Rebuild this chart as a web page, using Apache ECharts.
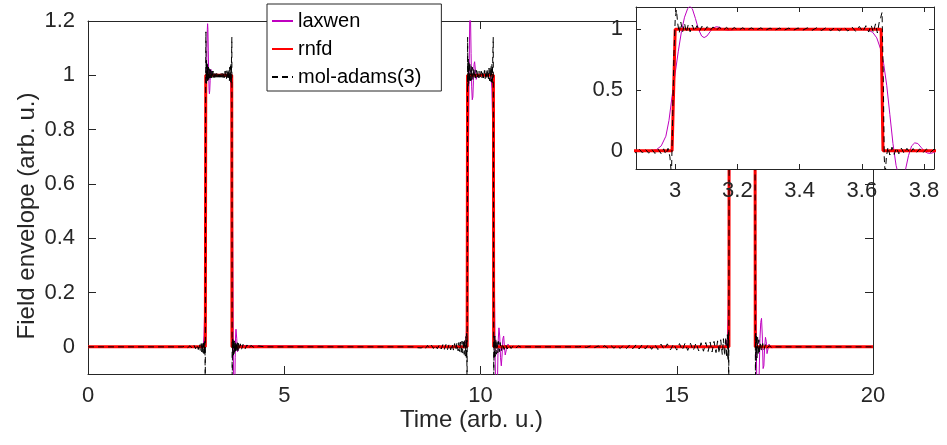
<!DOCTYPE html>
<html>
<head>
<meta charset="utf-8">
<script src="https://cdn.jsdelivr.net/npm/echarts@6/dist/echarts.min.js"></script>
<style>
html,body{margin:0;padding:0;background:#fff;}
#chart{width:947px;height:445px;}
</style>
</head>
<body>
<div id="chart"></div>
<script>
// ---------------- data ----------------
const seriesNames = ['laxwen', 'rnfd', 'mol-adams(3)'];
const mainXTicks = [0, 5, 10, 15, 20];
const mainYTicks = [0, 0.2, 0.4, 0.6, 0.8, 1, 1.2];
const insetXTicks = [3, 3.2, 3.4, 3.6, 3.8];
const insetYTicks = [0, 0.5, 1];

// rnfd: ideal rectangular pulses
const rnfd = [
  [0, 0], [2.99, 0], [3.0, 1], [3.662, 1], [3.668, 0],
  [9.66, 0], [9.67, 1], [10.33, 1], [10.335, 0],
  [16.33, 0], [16.335, 1], [16.995, 1], [17.0, 0], [20, 0]
];

// laxwen: smooth with overshoot / ringing
const laxwen = [
  [0, 0], [2.92, 0], [2.94, 0.01], [2.955, 0.04], [2.97, 0.12], [2.98, 0.25], [2.99, 0.45],
  [3.0, 0.64], [3.01, 0.82], [3.02, 0.98], [3.03, 1.1], [3.04, 1.17], [3.047, 1.19], [3.055, 1.17],
  [3.065, 1.09], [3.075, 1.0], [3.085, 0.945], [3.093, 0.932], [3.102, 0.945], [3.112, 0.98],
  [3.122, 1.01], [3.132, 1.022], [3.142, 1.017], [3.155, 1.0], [3.17, 0.993], [3.19, 0.998],
  [3.22, 1.002], [3.3, 1.0], [3.6, 1.0], [3.62, 0.995], [3.635, 0.975], [3.648, 0.93],
  [3.66, 0.84], [3.67, 0.72], [3.68, 0.54], [3.69, 0.3], [3.70, 0.06], [3.71, -0.12],
  [3.72, -0.22], [3.73, -0.23], [3.74, -0.16], [3.75, -0.04], [3.76, 0.04], [3.77, 0.065],
  [3.78, 0.06], [3.79, 0.03], [3.80, 0.0], [3.81, -0.018], [3.82, -0.022], [3.83, -0.015],
  [3.845, -0.004], [3.86, 0.004], [3.88, 0.005], [3.91, 0.0],
  [9.55, 0], [9.6, 0.003], [9.63, 0.02], [9.65, 0.08], [9.67, 0.3], [9.69, 0.65], [9.71, 1.0],
  [9.725, 1.2], [9.735, 1.26], [9.745, 1.22], [9.76, 1.08], [9.775, 0.96], [9.79, 0.91],
  [9.805, 0.92], [9.82, 0.98], [9.835, 1.04], [9.85, 1.05], [9.87, 1.02], [9.89, 0.985],
  [9.91, 0.99], [9.94, 1.005], [10.0, 1.0], [10.24, 1.0], [10.27, 0.99], [10.29, 0.95],
  [10.31, 0.82], [10.33, 0.6], [10.35, 0.3], [10.37, 0.0], [10.39, -0.2], [10.41, -0.26],
  [10.43, -0.15], [10.45, 0.02], [10.47, 0.07], [10.49, 0.04], [10.51, -0.04], [10.53, -0.07],
  [10.55, -0.03], [10.57, 0.03], [10.59, 0.04], [10.61, 0.0], [10.63, -0.03], [10.66, -0.01],
  [10.7, 0.01], [10.75, 0.0],
  [16.2, 0], [16.26, 0.005], [16.29, 0.03], [16.31, 0.12], [16.33, 0.35], [16.35, 0.7],
  [16.37, 1.05], [16.385, 1.25], [16.4, 1.3], [16.415, 1.2], [16.43, 1.0], [16.45, 0.88],
  [16.47, 0.87], [16.49, 0.95], [16.51, 1.05], [16.53, 1.07], [16.56, 1.02], [16.6, 0.98],
  [16.65, 1.0], [16.9, 1.0], [16.93, 0.98], [16.96, 0.9], [16.98, 0.7], [17.0, 0.4],
  [17.02, 0.1], [17.04, -0.15], [17.06, -0.3], [17.08, -0.25], [17.1, -0.1], [17.12, 0.03],
  [17.14, 0.09], [17.16, 0.105], [17.18, 0.04], [17.2, -0.08], [17.22, -0.07], [17.24, 0.0],
  [17.26, 0.035], [17.28, 0.02], [17.3, -0.025], [17.32, -0.02], [17.35, 0.01], [17.38, 0.008],
  [17.42, -0.004], [17.5, 0], [20, 0]
];

// mol-adams(3): sharp edges with high-frequency ripple
const molAdams = [
  [0, 0], [2.4, 0], [2.48, 0.003], [2.54, -0.003], [2.6, 0.004], [2.65, -0.005], [2.7, 0.006],
  [2.74, -0.007], [2.78, 0.008], [2.81, -0.01], [2.84, 0.011], [2.86, -0.013],
  [2.875, -0.016], [2.885, 0.012], [2.895, -0.018], [2.905, 0.01], [2.915, -0.02], [2.925, 0.012],
  [2.935, -0.022], [2.945, 0.014], [2.955, -0.025], [2.963, 0.016], [2.97, -0.03], [2.977, 0.02],
  [2.983, -0.05], [2.988, -0.2], [2.992, 0.3], [2.996, 0.8], [3.0, 1.08], [3.004, 1.16],
  [3.008, 1.05], [3.013, 0.97], [3.018, 1.06], [3.024, 0.98], [3.03, 1.05], [3.036, 0.975],
  [3.042, 1.04], [3.048, 0.98], [3.055, 1.035], [3.062, 0.985], [3.07, 1.03], [3.078, 0.985],
  [3.086, 1.025], [3.094, 0.99], [3.103, 1.022], [3.112, 0.99], [3.122, 1.02], [3.132, 0.99],
  [3.142, 1.018], [3.153, 0.99], [3.165, 1.016], [3.177, 0.99], [3.19, 1.015], [3.203, 0.992],
  [3.217, 1.013], [3.23, 0.992], [3.245, 1.012], [3.26, 0.993], [3.275, 1.012], [3.29, 0.993],
  [3.305, 1.01], [3.32, 0.993], [3.335, 1.01], [3.35, 0.993], [3.365, 1.01], [3.38, 0.993],
  [3.395, 1.011], [3.41, 0.993], [3.425, 1.012], [3.44, 0.992], [3.455, 1.013], [3.47, 0.991],
  [3.485, 1.014], [3.5, 0.99], [3.514, 1.016], [3.528, 0.988], [3.542, 1.018], [3.555, 0.986],
  [3.568, 1.02], [3.58, 0.984], [3.592, 1.024], [3.603, 0.98], [3.613, 1.03], [3.622, 0.978],
  [3.63, 1.035], [3.637, 0.975], [3.644, 1.045], [3.65, 0.97], [3.656, 1.06], [3.661, 1.1],
  [3.665, 1.14], [3.669, 0.6], [3.672, -0.05], [3.675, -0.2], [3.679, -0.05], [3.684, 0.03],
  [3.69, -0.035], [3.697, 0.03], [3.704, -0.03], [3.711, 0.025], [3.719, -0.025], [3.727, 0.022],
  [3.736, -0.022], [3.745, 0.02], [3.755, -0.02], [3.765, 0.018], [3.775, -0.018], [3.786, 0.016],
  [3.797, -0.016], [3.808, 0.015], [3.82, -0.014], [3.832, 0.013], [3.85, -0.012], [3.88, 0.011],
  [3.91, -0.01], [3.95, 0.009], [4.0, -0.008], [4.05, 0.007], [4.1, -0.006], [4.15, 0.005],
  [4.25, -0.004], [4.35, 0.003], [4.5, 0],
  [8.3, 0], [8.35, 0.003], [8.4, -0.003], [8.45, 0.004], [8.5, -0.004], [8.55, 0.004],
  [8.6, -0.005], [8.65, 0.005], [8.7, -0.005], [8.75, 0.006], [8.8, -0.006], [8.85, 0.006],
  [8.9, -0.007], [8.95, 0.007], [9.0, -0.008], [9.04, 0.008], [9.08, -0.009], [9.12, 0.009],
  [9.16, -0.01], [9.2, 0.01], [9.24, -0.011], [9.28, 0.011], [9.31, -0.012], [9.34, 0.012],
  [9.37, -0.013], [9.4, 0.014], [9.43, -0.015], [9.45, 0.016], [9.47, -0.017], [9.49, 0.018],
  [9.51, -0.02], [9.53, 0.021], [9.55, -0.023], [9.57, 0.025], [9.585, -0.028], [9.6, 0.03],
  [9.615, -0.034], [9.63, 0.038], [9.64, -0.045], [9.65, 0.05], [9.658, -0.2], [9.665, 0.4],
  [9.672, 1.14], [9.68, 0.96], [9.69, 1.06], [9.70, 0.97], [9.71, 1.05], [9.72, 0.975],
  [9.73, 1.04], [9.745, 0.98], [9.76, 1.035], [9.775, 0.982], [9.79, 1.03], [9.805, 0.985],
  [9.82, 1.025], [9.84, 0.988], [9.86, 1.02], [9.88, 0.99], [9.9, 1.018], [9.92, 0.99],
  [9.94, 1.016], [9.96, 0.99], [9.98, 1.015], [10.0, 0.99], [10.02, 1.015], [10.04, 0.99],
  [10.06, 1.016], [10.08, 0.99], [10.1, 1.018], [10.12, 0.988], [10.14, 1.02], [10.16, 0.986],
  [10.18, 1.023], [10.2, 0.984], [10.215, 1.026], [10.23, 0.98], [10.245, 1.03], [10.26, 0.978],
  [10.27, 1.035], [10.28, 0.975], [10.29, 1.04], [10.3, 0.97], [10.31, 1.05], [10.318, 1.1],
  [10.325, 1.14], [10.332, 0.5], [10.338, -0.2], [10.345, 0.04], [10.355, -0.045], [10.365, 0.04],
  [10.375, -0.035], [10.39, 0.03], [10.405, -0.027], [10.42, 0.025], [10.44, -0.022], [10.46, 0.02],
  [10.48, -0.018], [10.5, 0.016], [10.53, -0.014], [10.56, 0.012], [10.6, -0.01], [10.64, 0.009],
  [10.68, -0.008], [10.73, 0.007], [10.78, -0.006], [10.84, 0.005], [10.9, -0.004], [10.97, 0.003],
  [11.05, -0.002], [11.15, 0],
  [12.5, 0], [12.6, 0.002], [12.7, -0.002], [12.8, 0.003], [12.9, -0.003], [13.0, 0.003],
  [13.08, -0.004], [13.16, 0.004], [13.24, -0.004], [13.32, 0.005], [13.4, -0.005], [13.48, 0.005],
  [13.56, -0.006], [13.64, 0.006], [13.72, -0.006], [13.8, 0.007], [13.88, -0.007], [13.96, 0.007],
  [14.04, -0.008], [14.12, 0.008], [14.2, -0.008], [14.28, 0.009], [14.36, -0.009], [14.44, 0.009],
  [14.52, -0.01], [14.6, 0.01], [14.68, -0.01], [14.76, 0.011], [14.84, -0.011], [14.92, 0.011],
  [15.0, -0.012], [15.07, 0.012], [15.14, -0.012], [15.21, 0.013], [15.28, -0.013], [15.35, 0.013],
  [15.42, -0.014], [15.49, 0.014], [15.56, -0.015], [15.62, 0.015], [15.68, -0.016], [15.74, 0.016],
  [15.8, -0.017], [15.85, 0.018], [15.9, -0.019], [15.95, 0.02], [16.0, -0.021], [16.04, 0.022],
  [16.08, -0.024], [16.12, 0.026], [16.16, -0.028], [16.19, 0.03], [16.22, -0.033], [16.25, 0.036],
  [16.27, -0.04], [16.29, 0.045], [16.305, -0.05], [16.318, 0.055], [16.325, -0.2], [16.332, 0.5],
  [16.34, 1.14], [16.36, 0.97], [16.4, 1.03], [16.5, 0.99], [16.7, 1.01], [16.9, 0.99],
  [16.97, 1.03], [16.99, 1.14], [16.997, 0.5], [17.005, -0.2], [17.012, 0.05], [17.022, -0.05],
  [17.034, 0.045], [17.046, -0.04], [17.06, 0.035], [17.075, -0.03], [17.09, 0.026], [17.11, -0.022],
  [17.13, 0.018], [17.16, -0.015], [17.19, 0.012], [17.22, -0.01], [17.26, 0.008], [17.3, -0.006],
  [17.35, 0.004], [17.42, -0.002], [17.5, 0], [20, 0]
];

// ---------------- styling ----------------
const FONT = '"Liberation Sans", Arial, Helvetica, sans-serif';
const AX = '#262626';
const colors = { laxwen: '#bf00bf', rnfd: '#ff0000', mol: '#000000' };
const DASH = [6, 4];

function mkX(grid, pos, min, max, ticks, showLabel, tickLen, z) {
  return {
    type: 'value', gridIndex: grid, position: pos, min: min, max: max, z: z,
    axisLine: { show: true, onZero: false, lineStyle: { color: AX, width: 1 } },
    axisTick: { show: true, inside: true, length: tickLen, customValues: ticks, lineStyle: { color: AX, width: 1 } },
    axisLabel: { show: showLabel, customValues: ticks, color: AX, fontSize: 22, fontFamily: FONT, margin: 11,
                 showMinLabel: true, showMaxLabel: true },
    splitLine: { show: false }
  };
}
function mkY(grid, pos, min, max, ticks, showLabel, tickLen, z) {
  return {
    type: 'value', gridIndex: grid, position: pos, min: min, max: max, z: z,
    axisLine: { show: true, onZero: false, lineStyle: { color: AX, width: 1 } },
    axisTick: { show: true, inside: true, length: tickLen, customValues: ticks, lineStyle: { color: AX, width: 1 } },
    axisLabel: { show: showLabel, customValues: ticks, color: AX, fontSize: 22, fontFamily: FONT, margin: 13,
                 showMinLabel: true, showMaxLabel: true },
    splitLine: { show: false }
  };
}

function mkSeries(name, data, color, width, dash, xi, yi, z) {
  return {
    name: name, type: 'line', data: data, xAxisIndex: xi, yAxisIndex: yi, z: z,
    symbol: 'none', showSymbol: false, clip: true, animation: false,
    lineStyle: { color: color, width: width, type: dash },
    itemStyle: { color: color },
    emphasis: { disabled: true }
  };
}

const chart = echarts.init(document.getElementById('chart'), null, { renderer: 'canvas' });
chart.setOption({
  animation: false,
  backgroundColor: '#fff',
  grid: [
    { left: 88, top: 21, width: 785, height: 353, show: false, z: 0 },
    { left: 636, top: 7, width: 298, height: 162, show: true, backgroundColor: '#fff', borderWidth: 0, z: 10 }
  ],
  xAxis: [
    mkX(0, 'bottom', 0, 20, mainXTicks, true, 8, 1),
    mkX(0, 'top', 0, 20, mainXTicks, false, 8, 1),
    mkX(1, 'bottom', 2.874, 3.832, insetXTicks, true, 5, 11),
    mkX(1, 'top', 2.874, 3.832, insetXTicks, false, 5, 11)
  ],
  yAxis: [
    mkY(0, 'left', -0.1, 1.2, mainYTicks, true, 8, 1),
    mkY(0, 'right', -0.1, 1.2, mainYTicks, false, 8, 1),
    mkY(1, 'left', -0.15, 1.184, insetYTicks, true, 5, 11),
    mkY(1, 'right', -0.15, 1.184, insetYTicks, false, 5, 11)
  ],
  legend: {
    data: seriesNames, orient: 'vertical', left: 267, top: 4,
    padding: [7, 20, 4, 4], itemGap: 8, itemWidth: 21, itemHeight: 14,
    backgroundColor: '#fff', borderColor: AX, borderWidth: 1, borderRadius: 0,
    textStyle: { fontSize: 20, color: '#000', fontFamily: FONT },
    itemStyle: { color: 'rgba(0,0,0,0)', borderColor: 'rgba(0,0,0,0)', borderWidth: 0 },
    selectedMode: false, z: 20
  },
  series: [
    mkSeries(seriesNames[0], laxwen, colors.laxwen, 1, 'solid', 0, 0, 2),
    mkSeries(seriesNames[1], rnfd, colors.rnfd, 3, 'solid', 0, 0, 3),
    mkSeries(seriesNames[2], molAdams, colors.mol, 1, DASH, 0, 0, 4),
    mkSeries(seriesNames[0], laxwen, colors.laxwen, 1, 'solid', 2, 2, 12),
    mkSeries(seriesNames[1], rnfd, colors.rnfd, 3, 'solid', 2, 2, 13),
    mkSeries(seriesNames[2], molAdams, colors.mol, 1, DASH, 2, 2, 14)
  ],
  graphic: [
    { type: 'text', x: 471.5, y: 420.5, z: 30,
      style: { text: 'Time (arb. u.)', font: '24px ' + FONT, fill: AX, align: 'center', verticalAlign: 'middle' } },
    { type: 'text', x: 27, y: 216, rotation: Math.PI / 2, z: 30,
      style: { text: 'Field envelope (arb. u.)', font: '24px ' + FONT, fill: AX, align: 'center', verticalAlign: 'middle' } }
  ]
});
</script>
</body>
</html>
